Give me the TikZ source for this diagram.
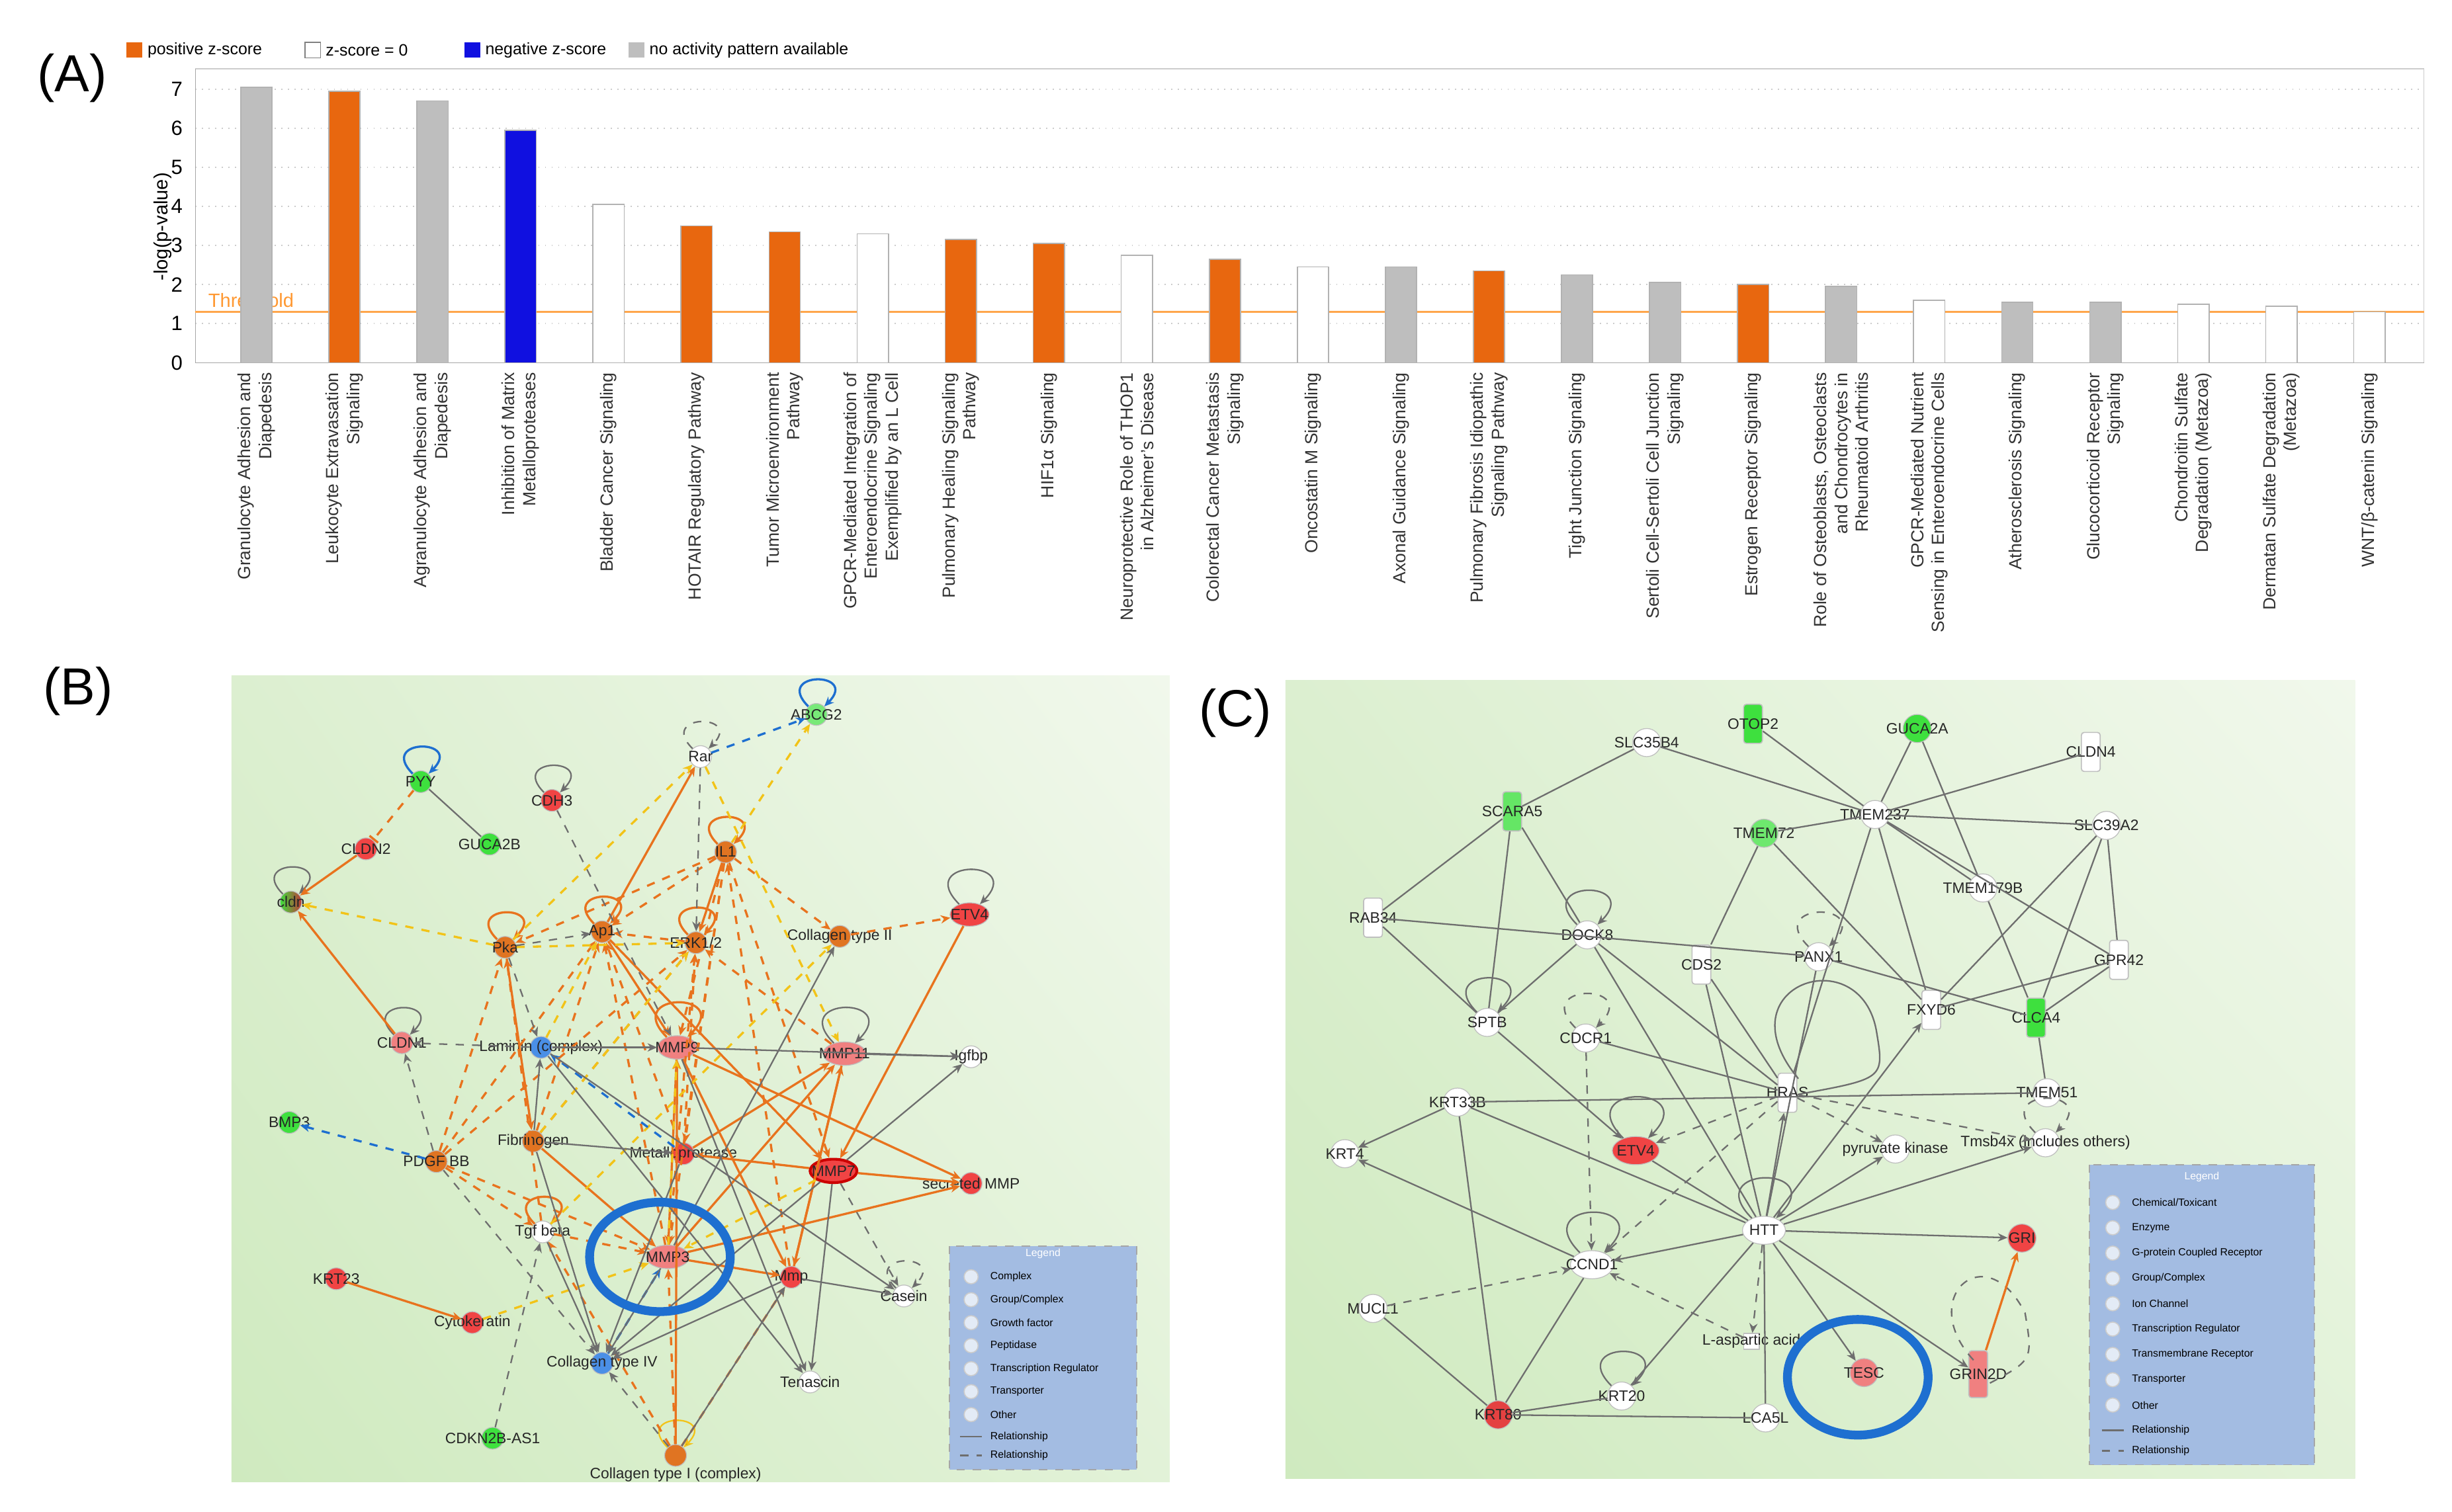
\documentclass[tikz,border=0pt]{standalone}
\usepackage{fontspec}
\setmainfont{Liberation Sans}
\usetikzlibrary{arrows.meta,shadings,shapes.geometric}
\definecolor{cOr}{HTML}{E8731E}
\definecolor{cYe}{HTML}{F2C318}
\definecolor{cGy}{HTML}{6E6E6E}
\definecolor{cBl}{HTML}{1E6FD0}
\definecolor{bOr}{HTML}{E8670F}
\definecolor{bGy}{HTML}{BEBEBE}
\definecolor{bBl}{HTML}{1010E0}
\definecolor{nRed}{HTML}{F04444}
\definecolor{nOr}{HTML}{E07422}
\definecolor{nGr}{HTML}{3EE03E}
\definecolor{nBl}{HTML}{4A8FE6}
\definecolor{nPk}{HTML}{F08080}
\definecolor{legC}{HTML}{A3BCE2}
\definecolor{bgA}{HTML}{DCEFD0}
\definecolor{bgB}{HTML}{F1F8EC}
\definecolor{bgC}{HTML}{CFEABF}
\definecolor{bgD}{HTML}{E2F2D8}
\tikzset{
 x=0.02cm, y=-0.02cm,
 nd/.style={circle, draw=gray!50, minimum size=0.28cm, inner sep=0pt, line width=0.3pt},
 ndc/.style={nd, minimum size=0.36cm},
 ov/.style={ellipse, minimum height=0.3cm},
 chan/.style={rectangle, rounded corners=1pt, draw=gray!50, minimum width=0.24cm, minimum height=0.5cm, inner sep=0pt},
 lab/.style={font=\fontsize{5.5}{6}\selectfont, text=black!85, inner sep=0pt},
 e/.style={-{Stealth[length=3.5pt,width=3pt]}, line width=0.55pt},
 eo/.style={e, draw=cOr, line width=0.8pt},
 eod/.style={eo, dashed},
 ey/.style={e, draw=cYe, dashed, line width=0.8pt},
 eg/.style={e, draw=cGy},
 egd/.style={eg, dashed},
 eb/.style={e, draw=cBl, dashed, line width=0.8pt},
 ln/.style={draw=cGy, line width=0.55pt},
 lp/.style={loop, out=135, in=45, min distance=0.5cm, looseness=8},
 cat/.style={rotate=90, anchor=east, align=right, font=\fontsize{6.4}{7.6}\selectfont, text=black!80, inner sep=0pt},
 big/.style={font=\fontsize{19}{22}\selectfont},
 leg/.style={font=\fontsize{3.8}{4.5}\selectfont, anchor=west, inner sep=0pt},
 lgd/.style={font=\fontsize{6}{7}\selectfont, anchor=west, inner sep=0pt},
 bg/.style={upper left=bgA, upper right=bgB, lower left=bgC, lower right=bgD}
}
\begin{document}
\begin{tikzpicture}
\useasboundingbox (0,0) rectangle (1568,967);
\fill[white] (0,0) rectangle (1568,967);
% ---------------- Panel A
\node[big] (A) at (46,50) {(A)};
\node[big] (B) at (50,442) {(B)};
\node[big] (C) at (790,456) {(C)};
\fill[bOr] (81,27) rectangle (91,37); \node[lgd] (l1) at (94,32) {positive z-score};
\draw[gray, fill=white] (195,27) rectangle (205,37); \node[lgd] (l2) at (208,32) {z-score = 0};
\fill[bBl] (297,27) rectangle (307,37); \node[lgd] (l3) at (310,32) {negative z-score};
\fill[bGy] (402,27) rectangle (412,37); \node[lgd] (l4) at (415,32) {no activity pattern available};
\draw[gray!40] (125,44) -- (1550,44) -- (1550,232);
\foreach \k in {1,...,7} \draw[gray!40, dotted] (125,232-25*\k) -- (1550,232-25*\k);
\foreach \k in {0,...,7} \node[font=\fontsize{7.5}{8}\selectfont, anchor=east] (t\k) at (123,232-25*\k) {\k};
\draw[gray!70] (125,44) -- (125,232) -- (1550,232);
\node[rotate=90, font=\fontsize{7}{8}\selectfont] (ylab) at (104,145) {-log(p-value)};
\draw[orange!70, line width=0.6pt] (125,199.5) -- (1550,199.5);
\node[font=\fontsize{7}{8}\selectfont, text=orange!80, anchor=west] (thr) at (127,192) {Threshold};
\foreach \v/\c/\t [count=\i] in {
 7.05/bGy/{Granulocyte Adhesion and\\Diapedesis},
 6.95/bOr/{Leukocyte Extravasation\\Signaling},
 6.7/bGy/{Agranulocyte Adhesion and\\Diapedesis},
 5.95/bBl/{Inhibition of Matrix\\Metalloproteases},
 4.05/white/{Bladder Cancer Signaling},
 3.5/bOr/{HOTAIR Regulatory Pathway},
 3.35/bOr/{Tumor Microenvironment\\Pathway},
 3.3/white/{GPCR-Mediated Integration of\\Enteroendocrine Signaling\\Exemplified by an L Cell},
 3.15/bOr/{Pulmonary Healing Signaling\\Pathway},
 3.05/bOr/{HIF1α Signaling},
 2.75/white/{Neuroprotective Role of THOP1\\in Alzheimer’s Disease},
 2.65/bOr/{Colorectal Cancer Metastasis\\Signaling},
 2.45/white/{Oncostatin M Signaling},
 2.45/bGy/{Axonal Guidance Signaling},
 2.35/bOr/{Pulmonary Fibrosis Idiopathic\\Signaling Pathway},
 2.25/bGy/{Tight Junction Signaling},
 2.05/bGy/{Sertoli Cell-Sertoli Cell Junction\\Signaling},
 2.0/bOr/{Estrogen Receptor Signaling},
 1.95/bGy/{Role of Osteoblasts, Osteoclasts\\and Chondrocytes in\\Rheumatoid Arthritis},
 1.6/white/{GPCR-Mediated Nutrient\\Sensing in Enteroendocrine Cells},
 1.55/bGy/{Atherosclerosis Signaling},
 1.55/bGy/{Glucocorticoid Receptor\\Signaling},
 1.5/white/{Chondroitin Sulfate\\Degradation (Metazoa)},
 1.45/white/{Dermatan Sulfate Degradation\\(Metazoa)},
 1.3/white/{WNT/β-catenin Signaling}} {
 \pgfmathsetmacro{\xx}{164+56.3*(\i-1)}
 \filldraw[fill=\c, draw=gray!60, line width=0.4pt] (\xx-10,232) rectangle (\xx+10,232-25*\v);
 \node[cat] (cat\i) at (\xx,238) {\t};
}
% ---------------- Panel B
\shade[bg] (148,432) rectangle (748,948);
\node[nd,fill=nGr,label={[lab]center:PYY}] (PYY) at (269,500) {};
\node[nd,fill=nRed,label={[lab]center:CDH3}] (CDH3) at (353,512) {};
\node[nd,fill=nGr,label={[lab]center:GUCA2B}] (GUCA2B) at (313,540) {};
\node[nd,fill=nRed,label={[lab]center:CLDN2}] (CLDN2) at (234,543) {};
\node[nd,left color=nGr,right color=nRed!80!black,label={[lab]center:cldn}] (cldn) at (186,577) {};
\node[nd,fill=white,label={[lab]center:Rar}] (Rar) at (448,484) {};
\node[nd,fill=nGr!70,label={[lab]center:ABCG2}] (ABCG2) at (522,457) {};
\node[nd,fill=nOr,label={[lab]center:IL1}] (IL1) at (464,545) {};
\node[nd,ov,fill=nRed,minimum width=0.5cm,label={[lab]center:ETV4}] (ETV4b) at (620,585) {};
\node[nd,fill=nOr,label={[lab]center:Ap1}] (Ap1) at (385,596) {};
\node[nd,fill=nOr,label={[lab]center:Pka}] (Pka) at (323,606) {};
\node[nd,fill=nOr,label={[lab]center:ERK1/2}] (ERK) at (445,603) {};
\node[nd,fill=nOr,label={[lab]center:Collagen type II}] (CollII) at (537,599) {};
\node[nd,fill=nPk,label={[lab]center:CLDN1}] (CLDN1) at (257,667) {};
\node[nd,fill=nBl,label={[lab]center:Laminin (complex)}] (Lam) at (346,670) {};
\node[nd,ov,fill=nPk,minimum width=0.5cm,label={[lab]center:MMP9}] (MMP9) at (433,670) {};
\node[nd,ov,fill=nPk,minimum width=0.55cm,label={[lab]center:MMP11}] (MMP11) at (540,674) {};
\node[nd,fill=white,label={[lab]center:Igfbp}] (Igfbp) at (621,676) {};
\node[nd,fill=nGr,label={[lab]center:BMP3}] (BMP3) at (185,718) {};
\node[nd,fill=nOr,label={[lab]center:Fibrinogen}] (Fib) at (341,730) {};
\node[nd,fill=nOr,label={[lab]center:PDGF BB}] (PDGF) at (279,743) {};
\node[nd,fill=nRed,label={[lab]center:Metalloprotease}] (Meta) at (437,738) {};
\node[nd,ov,fill=nRed,draw=red!80!black,line width=1pt,minimum width=0.6cm,label={[lab]center:MMP7}] (MMP7) at (533,749) {};
\node[nd,fill=nRed,label={[lab]center:secreted MMP}] (sMMP) at (621,757) {};
\node[nd,fill=white,label={[lab]center:Tgf beta}] (Tgf) at (347,788) {};
\node[nd,ov,fill=nPk,minimum width=0.55cm,label={[lab]center:MMP3}] (MMP3) at (427,804) {};
\node[nd,fill=nRed,label={[lab]center:Mmp}] (Mmp) at (506,817) {};
\node[nd,fill=white,label={[lab]center:Casein}] (Casein) at (578,829) {};
\node[nd,fill=nRed,label={[lab]center:KRT23}] (KRT23) at (215,818) {};
\node[nd,fill=nRed,label={[lab]center:Cytokeratin}] (Cyto) at (302,846) {};
\node[nd,fill=nBl,label={[lab]center:Collagen type IV}] (CollIV) at (385,872) {};
\node[nd,fill=white,label={[lab]center:Tenascin}] (Ten) at (518,884) {};
\node[nd,fill=nGr,label={[lab]center:CDKN2B-AS1}] (CDKN) at (315,920) {};
\node[nd,fill=nOr,label={[lab]below:{\fontsize{5.5}{6}\selectfont Collagen type I (complex)}}] (CollI) at (432,931) {};
% self loops
\foreach \n in {PYY,ABCG2} \path[e,draw=cBl,line width=0.8pt] (\n) edge[lp] (\n);
\foreach \n in {CDH3,cldn,CLDN1,ETV4b,MMP11} \path[e,draw=cGy] (\n) edge[lp] (\n);
\foreach \n in {Rar,Casein} \path[e,draw=cGy,dashed] (\n) edge[lp] (\n);
\foreach \n in {IL1,Ap1,Pka,ERK,MMP9,Tgf} \path[e,draw=cOr,line width=0.8pt] (\n) edge[lp] (\n);
\path[e,draw=cYe] (CollI) edge[lp] (CollI);
% edges
\draw[eod,-{Bar[width=4pt]}] (PYY) -- (CLDN2);
\draw[ln] (PYY) -- (GUCA2B);
\foreach \a/\b in {CLDN2/cldn,CLDN1/cldn,ETV4b/MMP7,Ap1/Rar,IL1/ERK,MMP9/sMMP,MMP9/Mmp,MMP3/MMP11,MMP3/sMMP,MMP3/Mmp,MMP7/sMMP,MMP7/Meta,KRT23/Cyto,CollI/MMP9,MMP11/Mmp,Ap1/MMP9,Pka/Fib,Fib/MMP3,MMP9/MMP3,Meta/MMP11,Mmp/MMP11,Ap1/MMP7}
 \draw[eo] (\a) -- (\b);
\foreach \a/\b in {IL1/Pka,IL1/Ap1,IL1/CollII,IL1/MMP9,IL1/Meta,IL1/MMP7,CollII/ETV4b,ERK/Ap1,PDGF/Pka,PDGF/Ap1,PDGF/ERK,PDGF/Tgf,PDGF/MMP3,Fib/Ap1,Fib/ERK,Tgf/MMP3,CollI/MMP3,CollI/Mmp,MMP3/ERK,Meta/ERK,IL1/MMP3,Tgf/Pka,MMP3/Ap1,Meta/Ap1,MMP11/ERK,CollI/Tgf,Mmp/IL1}
 \draw[eod] (\a) -- (\b);
\foreach \a/\b in {Pka/cldn,IL1/ABCG2,Pka/Rar,Rar/MMP11,Pka/ERK,Cyto/MMP3,Fib/ERK,Tgf/CollII,MMP7/MMP3,Lam/Ap1,MMP3/MMP9}
 \draw[ey] (\a) -- (\b);
\foreach \a/\b in {Rar/ABCG2,PDGF/BMP3,Meta/Lam,CollIV/MMP3} \draw[eb] (\a) -- (\b);
\foreach \a/\b in {Rar/ERK,CDH3/MMP9,Lam/CLDN1,Pka/Ap1,PDGF/CLDN1,PDGF/CollIV,CDKN/Tgf,CollI/CollIV,MMP7/Casein,Pka/Lam}
 \draw[egd] (\a) -- (\b);
\foreach \a/\b in {MMP9/Igfbp,MMP11/Igfbp,MMP3/CollII,Mmp/Casein,MMP9/Ten,MMP7/Ten,Mmp/CollIV,Lam/Casein,Tgf/CollIV,MMP3/CollIV,MMP7/CollIV,Fib/Meta,MMP7/Igfbp,CollI/Mmp,Lam/MMP9,Fib/CollIV,Meta/CollIV,Lam/Ten,Fib/Lam}
 \draw[eg] (\a) -- (\b);
\draw[cBl, line width=3.2pt] (422,804) ellipse [x radius=0.9cm, y radius=0.7cm];
% legend B
\draw[gray!70, dashed, fill=legC] (607,797) rectangle (727,940);
\node[leg, text=white, anchor=center] (lbt) at (667,802) {Legend};
\foreach \t [count=\i] in {Complex,Group/Complex,Growth factor,Peptidase,Transcription Regulator,Transporter,Other}
 { \draw[gray!40, fill=white!70!legC] (621,802+\i*14.7) circle (0.09cm);
   \node[leg] (lb\i) at (633,802+\i*14.7) {\t}; }
\draw[cGy, line width=0.6pt] (614,919) -- (628,919); \node[leg] (lb8) at (633,919) {Relationship};
\draw[cGy, line width=0.6pt, dashed] (614,931) -- (628,931); \node[leg] (lb9) at (633,931) {Relationship};
% ---------------- Panel C
\shade[bg] (822,435) rectangle (1506,946);
\node[chan,fill=nGr,label={[lab]center:OTOP2}] (OTOP2) at (1121,463) {};
\node[ndc,fill=white,label={[lab]center:SLC35B4}] (SLC35B4) at (1053,475) {};
\node[ndc,fill=nGr,label={[lab]center:GUCA2A}] (GUCA2A) at (1226,466) {};
\node[chan,fill=white,label={[lab]center:CLDN4}] (CLDN4) at (1337,481) {};
\node[chan,fill=nGr!80,label={[lab]center:SCARA5}] (SCARA5) at (967,519) {};
\node[ndc,fill=white,label={[lab]center:TMEM237}] (TMEM237) at (1199,521) {};
\node[ndc,fill=nGr!75,label={[lab]center:TMEM72}] (TMEM72) at (1128,533) {};
\node[ndc,fill=white,label={[lab]center:SLC39A2}] (SLC39A2) at (1347,528) {};
\node[ndc,fill=white,label={[lab]center:TMEM179B}] (TMEM179B) at (1268,568) {};
\node[chan,fill=white,label={[lab]center:RAB34}] (RAB34) at (878,587) {};
\node[ndc,fill=white,label={[lab]center:DOCK8}] (DOCK8) at (1015,598) {};
\node[chan,fill=white,label={[lab]center:CDS2}] (CDS2) at (1088,617) {};
\node[ndc,fill=white,label={[lab]center:PANX1}] (PANX1) at (1163,612) {};
\node[chan,fill=white,label={[lab]center:GPR42}] (GPR42) at (1355,614) {};
\node[chan,fill=white,label={[lab]center:FXYD6}] (FXYD6) at (1235,646) {};
\node[chan,fill=nGr,label={[lab]center:CLCA4}] (CLCA4) at (1302,651) {};
\node[ndc,fill=white,label={[lab]center:SPTB}] (SPTB) at (951,654) {};
\node[ndc,fill=white,label={[lab]center:CDCR1}] (CDCR1) at (1014,664) {};
\node[chan,fill=white,label={[lab]center:HRAS}] (HRAS) at (1143,699) {};
\node[ndc,fill=white,label={[lab]center:TMEM51}] (TMEM51) at (1309,699) {};
\node[ndc,fill=white,label={[lab]center:KRT33B}] (KRT33B) at (932,705) {};
\node[ndc,ov,fill=nRed,minimum width=0.6cm,minimum height=0.36cm,label={[lab]center:ETV4}] (ETV4) at (1046,736) {};
\node[ndc,fill=white,label={[lab]center:pyruvate kinase}] (PK) at (1212,735) {};
\node[ndc,fill=white,label={[lab]center:Tmsb4x (includes others)}] (Tmsb) at (1308,731) {};
\node[ndc,fill=white,label={[lab]center:KRT4}] (KRT4) at (860,738) {};
\node[ndc,ov,fill=white,minimum width=0.55cm,minimum height=0.36cm,label={[lab]center:HTT}] (HTT) at (1128,787) {};
\node[ndc,fill=nRed,label={[lab]center:GRI}] (GRI) at (1293,792) {};
\node[ndc,ov,fill=white,minimum width=0.55cm,minimum height=0.36cm,label={[lab]center:CCND1}] (CCND1) at (1018,809) {};
\node[ndc,fill=white,label={[lab]center:MUCL1}] (MUCL1) at (878,837) {};
\node[rectangle,draw=gray!50,fill=white,minimum size=0.2cm,inner sep=0pt,label={[lab]center:L-aspartic acid}] (Lasp) at (1120,858) {};
\node[ndc,fill=nPk,label={[lab]center:TESC}] (TESC) at (1192,878) {};
\node[chan,fill=nPk,minimum height=0.6cm,label={[lab]center:GRIN2D}] (GRIN2D) at (1265,879) {};
\node[ndc,fill=white,label={[lab]center:KRT20}] (KRT20) at (1037,893) {};
\node[ndc,fill=nRed!95!black,label={[lab]center:KRT80}] (KRT80) at (958,905) {};
\node[ndc,fill=white,label={[lab]center:LCA5L}] (LCA5L) at (1129,907) {};
% loops
\foreach \n in {DOCK8,SPTB,ETV4,CCND1,HTT,KRT20} \path[e,draw=cGy] (\n) edge[lp] (\n);
\foreach \n in {CDCR1,PANX1,Tmsb} \path[e,draw=cGy,dashed] (\n) edge[lp] (\n);
\draw[cGy, line width=0.55pt] (1150,690) .. controls (1100,630) and (1190,600) .. (1200,660) .. controls (1205,690) .. (1150,700);
\draw[cGy, dashed, line width=0.55pt] (1262,870) .. controls (1225,830) and (1270,790) .. (1295,840) .. controls (1300,870) .. (1272,885);
% edges
\foreach \a/\b in {SLC35B4/SCARA5,SLC35B4/TMEM237,OTOP2/TMEM237,GUCA2A/TMEM237,GUCA2A/TMEM179B,CLDN4/TMEM237,TMEM72/TMEM237,TMEM237/SLC39A2,TMEM237/TMEM179B,TMEM237/GPR42,TMEM237/FXYD6,TMEM237/HRAS,SCARA5/RAB34,SCARA5/SPTB,SCARA5/DOCK8,RAB34/PANX1,PANX1/CLCA4,RAB34/SPTB,DOCK8/SPTB,DOCK8/HTT,DOCK8/HRAS,TMEM72/CDS2,TMEM72/FXYD6,TMEM179B/CLCA4,SLC39A2/FXYD6,SLC39A2/CLCA4,SLC39A2/GPR42,GPR42/FXYD6,GPR42/CLCA4,CLCA4/TMEM51,CDS2/HTT,CDS2/HRAS,PANX1/HTT,CDCR1/HRAS,KRT33B/TMEM51,KRT33B/HTT,KRT33B/KRT80,HTT/LCA5L,HTT/KRT20,HTT/ETV4,MUCL1/KRT80,CCND1/KRT80,KRT80/KRT20,KRT80/LCA5L}
 \draw[ln] (\a) -- (\b);
\foreach \a/\b in {SPTB/ETV4,KRT33B/KRT4,HTT/HRAS,HTT/FXYD6,HTT/PK,HTT/Tmsb,HTT/GRI,HTT/CCND1,CCND1/KRT4,HTT/TESC,HTT/GRIN2D}
 \draw[eg] (\a) -- (\b);
\foreach \a/\b in {CDCR1/CCND1,HRAS/ETV4,HRAS/PK,HRAS/Tmsb,HRAS/CCND1,HTT/Lasp,Lasp/CCND1,MUCL1/CCND1}
 \draw[egd] (\a) -- (\b);
\draw[eo] (GRIN2D) -- (GRI);
\draw[cBl, line width=3.2pt] (1188,881) ellipse [x radius=0.9cm, y radius=0.74cm];
% legend C
\draw[gray!70, dashed, fill=legC] (1336,745) rectangle (1480,937);
\node[leg, text=white, anchor=center] (lct) at (1408,753) {Legend};
\foreach \t [count=\i] in {Chemical/Toxicant,Enzyme,G-protein Coupled Receptor,Group/Complex,Ion Channel,Transcription Regulator,Transmembrane Receptor,Transporter,Other}
 { \draw[gray!40, fill=white!70!legC] (1351,753+\i*16.2) circle (0.09cm);
   \node[leg] (lc\i) at (1363,753+\i*16.2) {\t}; }
\draw[cGy, line width=0.6pt] (1344,915) -- (1358,915); \node[leg] (lc10) at (1363,915) {Relationship};
\draw[cGy, line width=0.6pt, dashed] (1344,928) -- (1358,928); \node[leg] (lc11) at (1363,928) {Relationship};
\end{tikzpicture}
\end{document}
